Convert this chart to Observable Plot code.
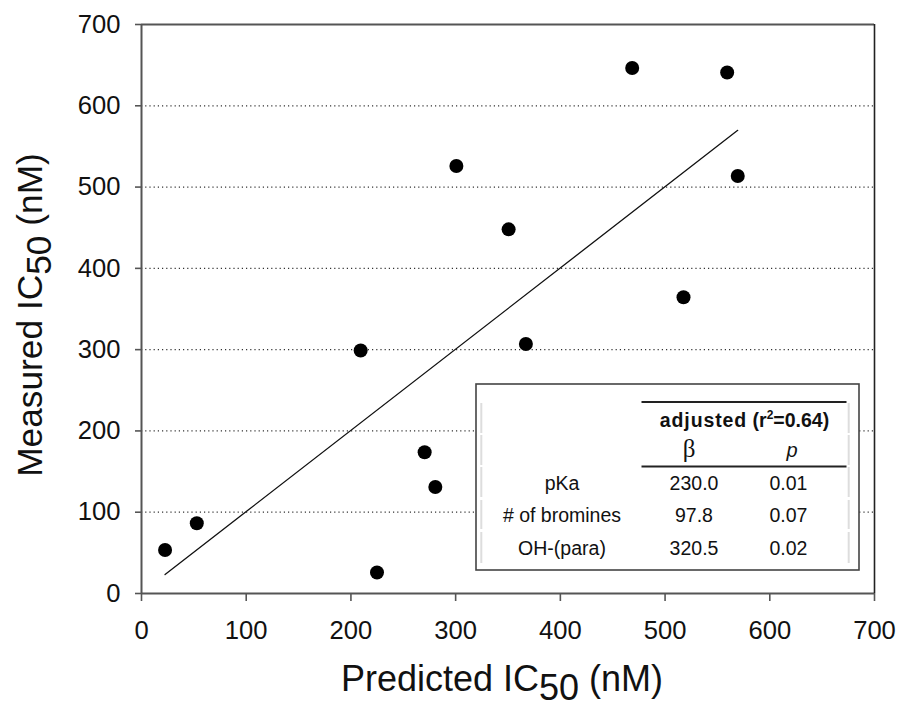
<!DOCTYPE html>
<html><head><meta charset="utf-8">
<script src="https://cdn.jsdelivr.net/npm/d3@7"></script>
<script src="https://cdn.jsdelivr.net/npm/@observablehq/plot@0.6"></script>
<style>body{margin:0;background:#fff;overflow:hidden}</style>
</head><body><div id="chart"></div>
<script>
// ---- data ----
const predicted = [22.5, 52.8, 224.9, 280.6, 270.4, 209.3, 367.1, 350.6, 300.7, 517.6, 468.6, 559.3, 569.4];
const measured  = [53.6, 86.5, 25.8, 131.0, 173.8, 298.9, 307.0, 448.0, 526.0, 364.4, 646.5, 641.0, 513.6];
const fitPredicted = [22.5, 569.4];
const fitMeasured  = [23.4, 569.8];
const xTicks = [0, 100, 200, 300, 400, 500, 600, 700];
const yTicks = [0, 100, 200, 300, 400, 500, 600, 700];
const gridValues = [100, 200, 300, 400, 500, 600];
const tableTitle = "adjusted";
const r2Value = "0.64";
const colHeaders = ["β", "p"];
const predictors = ["pKa", "# of bromines", "OH-(para)"];
const betas = ["230.0", "97.8", "320.5"];
const pValues = ["0.01", "0.07", "0.02"];

const points = predicted.map((p, i) => ({p, m: measured[i]}));
const fit = fitPredicted.map((p, i) => ({p, m: fitMeasured[i]}));

const W = 901, H = 708;
const font = "'Liberation Sans', Arial, Helvetica, sans-serif";
const axisColor = "#555";

const plot = Plot.plot({
  width: W, height: H,
  marginLeft: 141, marginRight: 27, marginTop: 24, marginBottom: 115,
  style: {fontFamily: font, fontSize: "25.6px", color: "#111", background: "#fff", overflow: "visible"},
  x: {domain: [0, 700]},
  y: {domain: [0, 700]},
  marks: [
    Plot.ruleY(gridValues, {stroke: "#333", strokeWidth: 1.2, strokeDasharray: "1.2,3"}),
    Plot.axisX({ticks: xTicks, tickSize: 8, tickPadding: 19, label: null, stroke: axisColor, strokeWidth: 1.6, tickFormat: d => String(d)}),
    Plot.axisY({ticks: yTicks, tickSize: 6, tickPadding: 15, label: null, stroke: axisColor, strokeWidth: 1.6, tickFormat: d => String(d)}),
    Plot.ruleX([0], {stroke: axisColor, strokeWidth: 2}),
    Plot.ruleY([0], {stroke: axisColor, strokeWidth: 2}),
    Plot.ruleY([700], {stroke: axisColor, strokeWidth: 2}),
    Plot.ruleX([700], {stroke: "#222", strokeWidth: 1.6}),
    Plot.line(fit, {x: "p", y: "m", stroke: "#111", strokeWidth: 1.3}),
    Plot.dot(points, {x: "p", y: "m", r: 7, fill: "#000", stroke: "none"})
  ]
});

const svg = d3.select(plot);

// axis titles
const xt = svg.append("text")
  .attr("x", 502).attr("y", 691)
  .attr("text-anchor", "middle")
  .attr("font-family", font).attr("font-size", 36).attr("fill", "#111");
xt.append("tspan").text("Predicted IC");
xt.append("tspan").attr("dy", 9).text("50");
xt.append("tspan").attr("dy", -9).text(" (nM)");

const yt = svg.append("text")
  .attr("transform", "translate(41.7,315) rotate(-90)")
  .attr("text-anchor", "middle")
  .attr("font-family", font).attr("font-size", 35.3).attr("fill", "#111");
yt.append("tspan").text("Measured IC");
yt.append("tspan").attr("dy", 9).text("50");
yt.append("tspan").attr("dy", -9).text(" (nM)");

// inset table
const g = svg.append("g").attr("font-family", font).attr("fill", "#111");
g.append("rect").attr("x", 476).attr("y", 384).attr("width", 383).attr("height", 186)
  .attr("fill", "#fff").attr("stroke", "#444").attr("stroke-width", 1.6);
const segs = [[403, 433], [435, 465], [467, 497], [500, 529], [532, 563]];
[481.3, 848.7].forEach(x => segs.forEach(([a, b]) =>
  g.append("line").attr("x1", x).attr("x2", x).attr("y1", a).attr("y2", b)
   .attr("stroke", "#ddd").attr("stroke-width", 2)));
[402, 466.5].forEach(y => g.append("line").attr("x1", 641.5).attr("x2", 846.5)
  .attr("y1", y).attr("y2", y).attr("stroke", "#222").attr("stroke-width", 2));

const ht = g.append("text").attr("x", 744.5).attr("y", 426.7).attr("text-anchor", "middle")
  .attr("font-weight", "bold").attr("font-size", 19.5);
ht.append("tspan").attr("letter-spacing", "0.9px").text(tableTitle);
ht.append("tspan").text(" (r");
ht.append("tspan").attr("font-size", 12).attr("dy", -8).text("2");
ht.append("tspan").attr("dy", 8).text("=" + r2Value + ")");

g.append("text").attr("x", 689).attr("y", 457).attr("text-anchor", "middle")
  .attr("font-family", "'Liberation Serif', 'DejaVu Serif', serif").attr("font-size", 25).text(colHeaders[0]);
g.append("text").attr("x", 792).attr("y", 457).attr("text-anchor", "middle")
  .attr("font-style", "italic").attr("font-size", 20).text(colHeaders[1]);

const rowY = [490, 522, 555];
predictors.forEach((name, i) => {
  g.append("text").attr("x", 562).attr("y", rowY[i]).attr("text-anchor", "middle").attr("font-size", 19.5).text(name);
  g.append("text").attr("x", 694).attr("y", rowY[i]).attr("text-anchor", "middle").attr("font-size", 19.5).text(betas[i]);
  g.append("text").attr("x", 788.5).attr("y", rowY[i]).attr("text-anchor", "middle").attr("font-size", 19.5).text(pValues[i]);
});

document.getElementById("chart").appendChild(plot);
</script>
</body></html>
